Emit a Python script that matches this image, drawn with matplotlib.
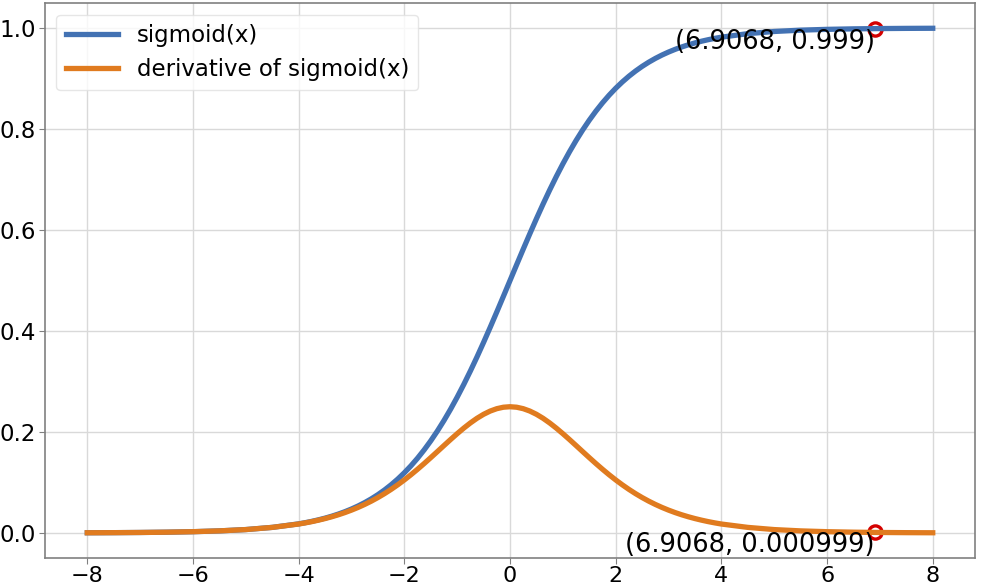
import matplotlib
matplotlib.use("Agg")
import matplotlib.pyplot as plt

x_vals = [-8.0, -7.5, -7.0, -6.5, -6.0, -5.5, -5.0, -4.5,
          -4.0, -3.875, -3.75, -3.625, -3.5, -3.375, -3.25, -3.125,
          -3.0, -2.875, -2.75, -2.625, -2.5, -2.375, -2.25, -2.125,
          -2.0, -1.875, -1.75, -1.625, -1.5, -1.375, -1.25, -1.125,
          -1.0, -0.875, -0.75, -0.625, -0.5, -0.375, -0.25, -0.125,
          0.0, 0.125, 0.25, 0.375, 0.5, 0.625, 0.75, 0.875,
          1.0, 1.125, 1.25, 1.375, 1.5, 1.625, 1.75, 1.875,
          2.0, 2.125, 2.25, 2.375, 2.5, 2.625, 2.75, 2.875,
          3.0, 3.125, 3.25, 3.375, 3.5, 3.625, 3.75, 3.875,
          4.0, 4.5, 5.0, 5.5, 6.0, 6.5, 7.0, 7.5, 8.0]

sigmoid_vals = [0.00034, 0.00055, 0.00091, 0.00150, 0.00247, 0.00407, 0.00669, 0.01099,
                0.01799, 0.02033, 0.02297, 0.02596, 0.02931, 0.03309, 0.03733, 0.04209,
                0.04743, 0.05340, 0.06008, 0.06754, 0.07586, 0.08510, 0.09535, 0.10669,
                0.11920, 0.13296, 0.14805, 0.16452, 0.18243, 0.20181, 0.22270, 0.24509,
                0.26894, 0.29421, 0.32082, 0.34865, 0.37754, 0.40733, 0.43782, 0.46879,
                0.50000, 0.53121, 0.56218, 0.59267, 0.62246, 0.65135, 0.67918, 0.70579,
                0.73106, 0.75491, 0.77730, 0.79819, 0.81757, 0.83548, 0.85195, 0.86704,
                0.88080, 0.89331, 0.90465, 0.91490, 0.92414, 0.93246, 0.93992, 0.94660,
                0.95257, 0.95791, 0.96267, 0.96691, 0.97069, 0.97404, 0.97703, 0.97967,
                0.98201, 0.98901, 0.99331, 0.99593, 0.99753, 0.99850, 0.99909, 0.99945, 0.99966]

deriv_vals = [0.00034, 0.00055, 0.00091, 0.00150, 0.00247, 0.00407, 0.00665, 0.01099,
              0.01766, 0.01992, 0.02244, 0.02529, 0.02845, 0.03200, 0.03594, 0.04032,
              0.04518, 0.05055, 0.05647, 0.06298, 0.07010, 0.07786, 0.08626, 0.09531,
              0.10499, 0.11528, 0.12613, 0.13745, 0.14915, 0.16108, 0.17311, 0.18502,
              0.19661, 0.20765, 0.21789, 0.22709, 0.23500, 0.24141, 0.24613, 0.24903,
              0.25000, 0.24903, 0.24613, 0.24141, 0.23500, 0.22709, 0.21789, 0.20765,
              0.19661, 0.18502, 0.17311, 0.16108, 0.14915, 0.13745, 0.12613, 0.11528,
              0.10499, 0.09531, 0.08626, 0.07786, 0.07010, 0.06298, 0.05647, 0.05055,
              0.04518, 0.04032, 0.03594, 0.03200, 0.02845, 0.02529, 0.02244, 0.01992,
              0.01766, 0.01099, 0.00665, 0.00407, 0.00247, 0.00150, 0.00091, 0.00055, 0.00034]

mark_x = [6.9068, 6.9068]
mark_y = [0.999, 0.000999]
mark_labels = ["(6.9068, 0.999)", "(6.9068, 0.000999)"]

plt.rcParams['font.family'] = ['DejaVu Sans']
fig = plt.figure(figsize=(9.81, 5.86), dpi=100)
ax = fig.add_axes([0.0459, 0.0478, 0.948, 0.947])

ax.plot(x_vals, sigmoid_vals, color='#4372b3', lw=3.8, label='sigmoid(x)', zorder=3)
ax.plot(x_vals, deriv_vals, color='#e07b1f', lw=3.8, label='derivative of sigmoid(x)', zorder=3)
ax.plot(mark_x, mark_y, linestyle='none', marker='o', markersize=9.5, markerfacecolor='none',
        markeredgecolor='#d40000', markeredgewidth=2.4, zorder=2)
for mx, my, lab in zip(mark_x, mark_y, mark_labels):
    ax.text(mx, my, lab, ha='right', va='top', fontsize=18.5, color='black', zorder=4)

ax.set_xticks([-8, -6, -4, -2, 0, 2, 4, 6, 8])
ax.set_yticks([0.0, 0.2, 0.4, 0.6, 0.8, 1.0])
ax.tick_params(axis='y', labelsize=16.5, color='#808080', length=4, pad=2.5)
ax.tick_params(axis='x', labelsize=16, color='#808080', length=4, pad=2)
ax.grid(True, color='#d9d9d9', lw=1)
ax.set_axisbelow(True)
for s in ax.spines.values():
    s.set_color('#808080')
    s.set_linewidth(1.2)

leg = ax.legend(loc='upper left', fontsize=16.5, framealpha=0.8, edgecolor='#e0e0e0',
                fancybox=True, handlelength=2.3)

fig.savefig('out.png', dpi=100, facecolor='white')
